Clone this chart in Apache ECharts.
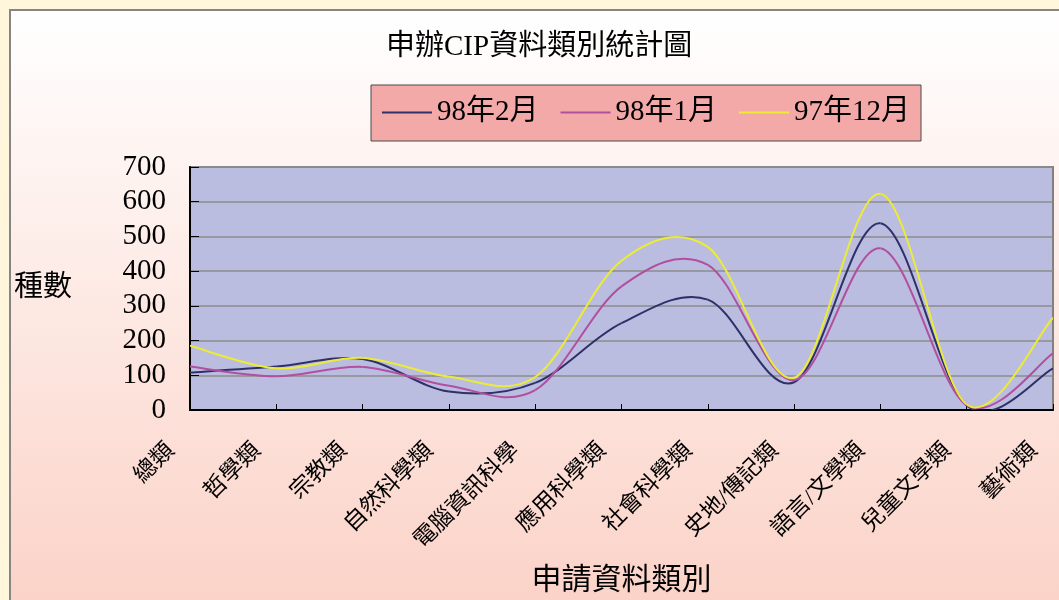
<!DOCTYPE html>
<html>
<head>
<meta charset="utf-8">
<script src="https://cdn.jsdelivr.net/npm/echarts@6/dist/echarts.min.js"></script>
<style>
  html, body { margin: 0; padding: 0; background: #fff6dc; }
  #chart { width: 1059px; height: 600px; }
</style>
</head>
<body>
<div id="chart"></div>
<script>
// 資料
const categories = ['總類', '哲學類', '宗教類', '自然科學類', '電腦資訊科學', '應用科學類',
  '社會科學類', '史地/傳記類', '語言/文學類', '兒童文學類', '藝術類'];
const seriesNames = ['98年2月', '98年1月', '97年12月'];
const feb98 = [108, 125, 147, 53, 78, 250, 318, 80, 538, 13, 120];
const jan98 = [125, 97, 124, 70, 57, 356, 418, 86, 466, 14, 163];
const dec97 = [185, 120, 150, 96, 95, 430, 470, 93, 623, 16, 266];
const yTicks = { min: 0, max: 700, interval: 100 };

const FONT = "'Liberation Serif', 'Noto Sans CJK TC', serif";
const colors = ['#2f3068', '#b24fa0', '#ecec34'];

const chart = echarts.init(document.getElementById('chart'), null, { renderer: 'canvas' });

// Excel 式平滑線 (Catmull-Rom)，每段用 bezier 畫，座標由 api.coord 換算
function splineSeries(name, data, color) {
  const n = data.length;
  const idx = k => Math.max(0, Math.min(n - 1, k));
  return {
    name: name,
    type: 'custom',
    clip: true,
    data: data.map((v, i) => [i, v]),
    encode: { x: 0, y: 1 },
    itemStyle: { color: color },
    renderItem: function (params, api) {
      const i = params.dataIndex;
      if (i >= n - 1) return null;
      const pt = k => api.coord([idx(k), data[idx(k)]]);
      const p0 = pt(i - 1), p1 = pt(i), p2 = pt(i + 1), p3 = pt(i + 2);
      return {
        type: 'bezierCurve',
        shape: {
          x1: p1[0], y1: p1[1],
          x2: p2[0], y2: p2[1],
          cpx1: p1[0] + (p2[0] - p0[0]) / 6,
          cpy1: p1[1] + (p2[1] - p0[1]) / 6,
          cpx2: p2[0] - (p3[0] - p1[0]) / 6,
          cpy2: p2[1] - (p3[1] - p1[1]) / 6
        },
        style: { stroke: color, lineWidth: 2, fill: null }
      };
    }
  };
}

chart.setOption({
  backgroundColor: '#fff6dc',
  animation: false,
  color: colors,
  textStyle: { fontFamily: FONT, color: '#000' },
  graphic: [
    {
      type: 'rect',
      z: -10,
      shape: { x: 10, y: 10, width: 1100, height: 700 },
      style: {
        fill: {
          type: 'linear', x: 0, y: 0, x2: 0, y2: 1,
          colorStops: [
            { offset: 0, color: '#ffffff' },
            { offset: 0.84, color: '#fbd3c8' },
            { offset: 1, color: '#fbd0c4' }
          ]
        },
        stroke: '#858585',
        lineWidth: 2
      }
    },
    {
      type: 'rect',
      z: -5,
      shape: { x: 371, y: 85, width: 550, height: 56 },
      style: { fill: '#f4a9a9', stroke: '#4a4a4a', lineWidth: 1 }
    },
    {
      type: 'text',
      z: 5,
      left: 386,
      top: 33,
      style: {
        text: '申辦CIP資料類別統計圖',
        font: "29px " + FONT,
        fill: '#000'
      }
    }
  ],
  legend: {
    data: seriesNames,
    left: 382,
    top: 98,
    padding: 0,
    icon: 'rect',
    itemWidth: 50,
    itemHeight: 2,
    itemGap: 22,
    textStyle: { fontSize: 29, fontFamily: FONT, color: '#000' }
  },
  grid: {
    left: 190,
    top: 167,
    width: 863,
    height: 243,
    outerBoundsMode: 'none',
    containLabel: false,
    show: true,
    backgroundColor: '#babde0',
    borderColor: '#808080',
    borderWidth: 2
  },
  xAxis: {
    type: 'category',
    data: categories,
    boundaryGap: false,
    name: '申請資料類別',
    nameLocation: 'middle',
    nameGap: 156,
    nameTextStyle: { fontSize: 30, fontFamily: FONT, color: '#000' },
    axisLine: { lineStyle: { color: '#000', width: 2 } },
    axisTick: { inside: true, length: 6, lineStyle: { color: '#000', width: 1 } },
    axisLabel: {
      interval: 0,
      rotate: 45,
      margin: 18,
      padding: [0, 27, 0, 0],
      fontSize: 23,
      fontFamily: FONT,
      color: '#000'
    },
    splitLine: { show: false }
  },
  yAxis: {
    type: 'value',
    min: yTicks.min,
    max: yTicks.max,
    interval: yTicks.interval,
    name: '種數',
    nameLocation: 'middle',
    nameRotate: 0,
    nameGap: 118,
    nameTextStyle: { fontSize: 29, fontFamily: FONT, color: '#000', padding: [8, 0, 0, 0] },
    axisLine: { show: true, lineStyle: { color: '#000', width: 2 } },
    axisTick: { show: true, inside: true, length: 9, lineStyle: { color: '#000', width: 1 } },
    axisLabel: { margin: 24, fontSize: 29, fontFamily: FONT, color: '#000' },
    splitLine: { lineStyle: { color: '#8c8c8c', width: 1.5 } }
  },
  series: [
    splineSeries(seriesNames[0], feb98, colors[0]),
    splineSeries(seriesNames[1], jan98, colors[1]),
    splineSeries(seriesNames[2], dec97, colors[2])
  ]
});
</script>
</body>
</html>
